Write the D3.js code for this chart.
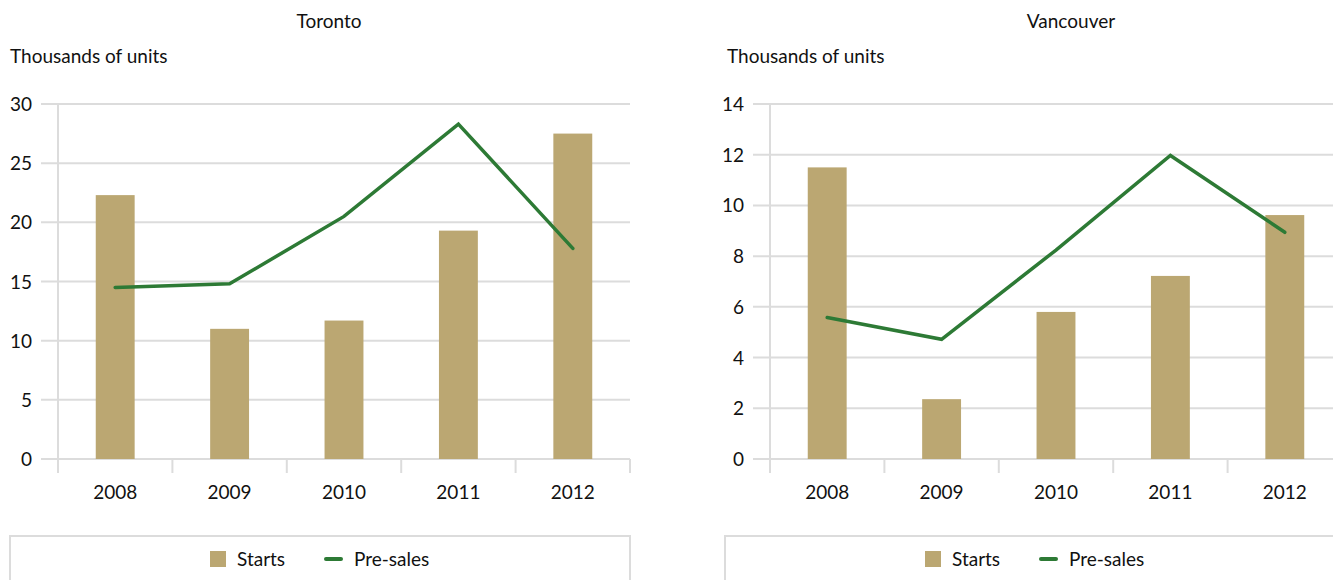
<!DOCTYPE html>
<html>
<head>
<meta charset="utf-8">
<script src="https://cdn.jsdelivr.net/npm/d3@7"></script>
<style>
  html, body { margin: 0; padding: 0; background: #fff; }
  svg { display: block; font-family: Lato, "Open Sans", sans-serif; }
</style>
</head>
<body>
<svg id="chart" width="1333" height="580"></svg>
<script>
// Housing starts and pre-sales, thousands of units
const years = ["2008", "2009", "2010", "2011", "2012"];

const torontoStarts   = [22.3, 11.0, 11.7, 19.3, 27.5];
const torontoPresales = [14.5, 14.8, 20.5, 28.3, 17.8];
const torontoTicks    = [0, 5, 10, 15, 20, 25, 30];

const vancouverStarts   = [11.5, 2.36, 5.8, 7.22, 9.62];
const vancouverPresales = [5.58, 4.72, 8.24, 11.97, 8.94];
const vancouverTicks    = [0, 2, 4, 6, 8, 10, 12, 14];

const panels = [
  { title: "Toronto",   starts: torontoStarts,   presales: torontoPresales,   ticks: torontoTicks,   max: 30,
    left: 58,  titleX: 329,  unitX: 10,  legendBox: 10,  legendX: 210 },
  { title: "Vancouver", starts: vancouverStarts, presales: vancouverPresales, ticks: vancouverTicks, max: 14,
    left: 770, titleX: 1071, unitX: 727, legendBox: 725, legendX: 925 }
];

const barColor = "#bba772";
const lineColor = "#2d7a35";
const gridColor = "#dcdcdc";
const textColor = "#111111";
const fontSize = 19;

const plotTop = 104, plotBottom = 459, plotWidth = 572;

const svg = d3.select("#chart");

panels.forEach(p => {
  const g = svg.append("g").attr("transform", `translate(${p.left},0)`);

  const x = d3.scaleBand().domain(years).range([0, plotWidth])
    .paddingInner(0.66).paddingOuter(0.33);
  const y = d3.scaleLinear().domain([0, p.max]).range([plotBottom, plotTop]);

  // title and unit label
  svg.append("text").attr("x", p.titleX).attr("y", 28)
    .attr("text-anchor", "middle").attr("font-size", fontSize).attr("fill", textColor)
    .text(p.title);
  svg.append("text").attr("x", p.unitX).attr("y", 63)
    .attr("font-size", fontSize).attr("fill", textColor)
    .text("Thousands of units");

  // horizontal gridlines with value labels
  g.selectAll(".grid").data(p.ticks).join("line")
    .attr("x1", -17).attr("x2", plotWidth)
    .attr("y1", d => y(d)).attr("y2", d => y(d))
    .attr("stroke", gridColor).attr("stroke-width", 2);
  g.selectAll(".ylab").data(p.ticks).join("text")
    .attr("x", -26).attr("y", d => y(d) + 7)
    .attr("text-anchor", "end").attr("font-size", fontSize).attr("fill", textColor)
    .text(d => d);

  // vertical axis and category ticks
  g.append("line").attr("x1", 0).attr("x2", 0).attr("y1", plotTop).attr("y2", plotBottom + 14)
    .attr("stroke", gridColor).attr("stroke-width", 2);
  const step = x.step();
  g.selectAll(".xtick").data(d3.range(years.length + 1)).join("line")
    .attr("x1", i => i * step).attr("x2", i => i * step)
    .attr("y1", plotBottom).attr("y2", plotBottom + 14)
    .attr("stroke", gridColor).attr("stroke-width", 2);
  g.selectAll(".xlab").data(years).join("text")
    .attr("x", d => x(d) + x.bandwidth() / 2).attr("y", 499)
    .attr("text-anchor", "middle").attr("font-size", fontSize).attr("fill", textColor)
    .text(d => d);

  // bars
  g.selectAll(".bar").data(p.starts).join("rect")
    .attr("x", (d, i) => x(years[i]))
    .attr("width", x.bandwidth())
    .attr("y", d => y(d))
    .attr("height", d => plotBottom - y(d))
    .attr("fill", barColor);

  // pre-sales line
  const line = d3.line()
    .x((d, i) => x(years[i]) + x.bandwidth() / 2)
    .y(d => y(d));
  g.append("path").datum(p.presales)
    .attr("d", line).attr("fill", "none")
    .attr("stroke", lineColor).attr("stroke-width", 3.5)
    .attr("stroke-linecap", "round");

  // legend
  svg.append("rect").attr("x", p.legendBox).attr("y", 536)
    .attr("width", 620).attr("height", 60)
    .attr("fill", "none").attr("stroke", gridColor).attr("stroke-width", 2);
  const lg = svg.append("g").attr("transform", `translate(${p.legendX},0)`);
  lg.append("rect").attr("x", 0).attr("y", 551).attr("width", 16).attr("height", 16).attr("fill", barColor);
  lg.append("text").attr("x", 27).attr("y", 566).attr("font-size", fontSize).attr("fill", textColor).text("Starts");
  lg.append("line").attr("x1", 116).attr("x2", 131).attr("y1", 559).attr("y2", 559)
    .attr("stroke", lineColor).attr("stroke-width", 4).attr("stroke-linecap", "round");
  lg.append("text").attr("x", 144).attr("y", 566).attr("font-size", fontSize).attr("fill", textColor).text("Pre-sales");
});
</script>
</body>
</html>
